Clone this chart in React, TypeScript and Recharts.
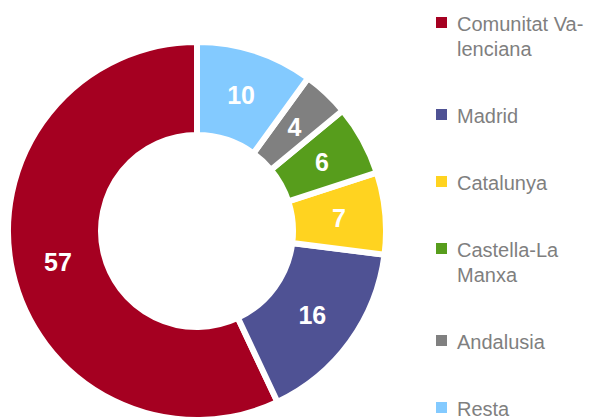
import * as React from 'react';
import { PieChart, Pie, Cell, Legend } from 'recharts';

// regions in legend order, drawn counter-clockwise from 12 o'clock
const regions = ['Comunitat Valenciana', 'Madrid', 'Catalunya', 'Castella-La Manxa', 'Andalusia', 'Resta'];
const counts = [57, 16, 7, 6, 4, 10];
const colors = ['#a50021', '#4f5294', '#ffd320', '#579d1c', '#808080', '#83caff'];
// legend text as it wraps in the original
const legendLines = [
  ['Comunitat Va-', 'lenciana'],
  ['Madrid'],
  ['Catalunya'],
  ['Castella-La', 'Manxa'],
  ['Andalusia'],
  ['Resta'],
];

const data = regions.map((name, i) => ({ name, value: counts[i] }));

const FONT = '"Liberation Sans", Arial, sans-serif';
const RAD = Math.PI / 180;

const renderLabel = (props: any) => {
  const { cx, cy, midAngle, innerRadius, outerRadius, value } = props;
  const r = (innerRadius + outerRadius) / 2;
  const x = cx + r * Math.cos(-midAngle * RAD);
  const y = cy + r * Math.sin(-midAngle * RAD);
  return (
    <text
      x={x}
      y={y}
      fill="#ffffff"
      textAnchor="middle"
      dominantBaseline="central"
      fontFamily={FONT}
      fontWeight="bold"
      fontSize={25}
    >
      {value}
    </text>
  );
};

const renderLegend = () => (
  <div style={{ fontFamily: FONT, fontSize: 20, lineHeight: '25px', color: '#7f7f7f' }}>
    {legendLines.map((lines, i) => (
      <div key={regions[i]} style={{ position: 'relative', paddingLeft: 21, marginBottom: 42 }}>
        <span
          style={{
            position: 'absolute',
            left: 0,
            top: 5,
            width: 11,
            height: 11,
            background: colors[i],
          }}
        />
        {lines.map((l) => (
          <div key={l} style={{ whiteSpace: 'nowrap' }}>{l}</div>
        ))}
      </div>
    ))}
  </div>
);

const App = () => {
  return (
    <div style={{ position: 'absolute', left: 0, top: 0, width: 592, height: 420, background: '#fff' }}>
      <PieChart width={592} height={420} margin={{ top: 0, right: 0, bottom: 0, left: 0 }}>
        <Pie
          data={data}
          dataKey="value"
          nameKey="name"
          cx={197}
          cy={231}
          innerRadius={96}
          outerRadius={189}
          startAngle={90}
          endAngle={450}
          stroke="#ffffff"
          strokeWidth={6}
          label={renderLabel}
          labelLine={false}
          isAnimationActive={false}
        >
          {data.map((d, i) => (
            <Cell key={d.name} fill={colors[i]} />
          ))}
        </Pie>
        <Legend
          layout="vertical"
          align="right"
          verticalAlign="top"
          width={158}
          wrapperStyle={{ left: 436, top: 12, right: 'auto' }}
          content={renderLegend}
        />
      </PieChart>
    </div>
  );
};

export default App;
